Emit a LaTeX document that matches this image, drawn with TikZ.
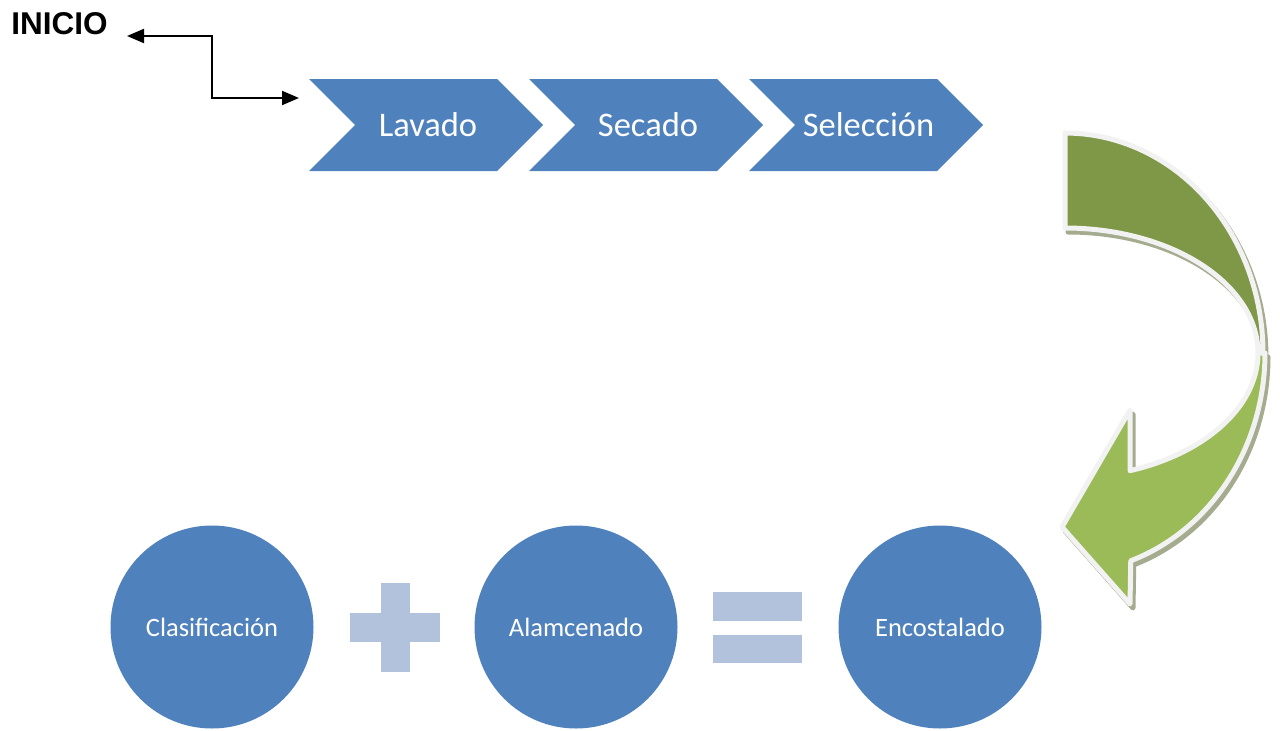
\documentclass[tikz,border=0pt]{standalone}
\usepackage{fontspec}
\setmainfont{Carlito}
\newfontfamily\arialf{Liberation Sans}
\usetikzlibrary{arrows.meta}
\definecolor{blueC}{HTML}{4F81BD}
\definecolor{plusC}{HTML}{B3C2DC}
\definecolor{darkG}{HTML}{7F9848}
\definecolor{lightG}{HTML}{9BBB59}
\definecolor{rimC}{HTML}{F2F2F2}
\definecolor{shadowC}{HTML}{A4AB8E}
\newcommand\DarkBand{(1065,133) -- plot[domain=90:0,samples=50] ({1065+198*cos(\x)},{353-220*sin(\x)}) -- plot[domain=0:90,samples=50] ({1065+193*cos(\x)},{353-125*sin(\x)}) -- cycle}
\newcommand\LightBand{(1258,353) -- plot[domain=0:-70.3,samples=50] ({1065+193*cos(\x)},{353-125*sin(\x)}) -- (1130,410) -- (1062,527) -- (1130,604) -- plot[domain=-70.8:0,samples=50] ({1065+200*cos(\x)},{353-220*sin(\x)}) -- cycle}
\begin{document}
\begin{tikzpicture}[x=1pt,y=-1pt,
  chev/.style={rectangle, minimum width=234pt, minimum height=92pt, inner sep=0pt,
    text=white, font=\fontsize{34}{40}\selectfont,
    path picture={\fill[blueC] (path picture bounding box.north west)
      -- ([xshift=-46pt]path picture bounding box.north east)
      -- (path picture bounding box.east)
      -- ([xshift=-46pt]path picture bounding box.south east)
      -- (path picture bounding box.south west)
      -- ([xshift=46pt]path picture bounding box.west) -- cycle;}},
  chevtext/.style={text=white, font=\fontsize{34.5}{40}\selectfont, inner sep=0pt},
  circ/.style={circle, fill=blueC, minimum size=203pt, inner sep=0pt,
    text=white, font=\fontsize{26.5}{30}\selectfont},
  plusnode/.style={rectangle, minimum width=90pt, minimum height=89pt, inner sep=0pt,
    path picture={\fill[plusC] ([xshift=-14.5pt]path picture bounding box.north) rectangle ([xshift=14.5pt]path picture bounding box.south);
      \fill[plusC] ([yshift=14.5pt]path picture bounding box.west) rectangle ([yshift=-14.5pt]path picture bounding box.east);}},
  eqnode/.style={rectangle, minimum width=89pt, minimum height=71pt, inner sep=0pt,
    path picture={\fill[plusC] (path picture bounding box.north west) rectangle ([yshift=-28.5pt]path picture bounding box.north east);
      \fill[plusC] ([yshift=28.5pt]path picture bounding box.south west) rectangle (path picture bounding box.south east);}},
  conn/.style={line width=2pt, {Triangle[length=17pt,width=14pt]}-{Triangle[length=17pt,width=14pt]}},
  rim/.style={draw=rimC, line width=5pt, line join=round},
  shad/.style={fill=shadowC, draw=shadowC, line width=5pt, line join=round, shift={(3,4)}}
]
\useasboundingbox (0,0) rectangle (1280,731);
% start label
\node[font=\arialf\bfseries\fontsize{31.5}{36}\selectfont, inner sep=0pt] (ini) at (59.5,24) {INICIO};
% chevrons
\node[chev] (lav) at (426,125) {};
\node[chev] (sec) at (646,125) {};
\node[chev] (sel) at (866,125) {};
\node[chevtext] (lavt) at ([xshift=2pt]lav.center) {Lavado};
\node[chevtext] (sect) at ([xshift=2pt]sec.center) {Secado};
\node[chevtext] (selt) at ([xshift=2.5pt]sel.center) {Selección};
% elbow connector
\coordinate (c1) at (127,36);
\coordinate (c2) at (299,98);
\draw[conn] (c1) -| ([xshift=-87pt]c2) -- (c2);
% curved arrow
\path[shad] \DarkBand;
\path[shad] \LightBand;
\path[fill=darkG, rim] \DarkBand;
\path[fill=lightG, rim] \LightBand;
% circles and operators
\node[circ] (cla) at (212,627) {Clasificación};
\node[plusnode] (plus) at (395,627.5) {};
\node[circ] (alm) at (576,627) {Alamcenado};
\node[eqnode] (eq) at (757.5,627.5) {};
\node[circ] (enc) at (940,627) {Encostalado};
\end{tikzpicture}
\end{document}
